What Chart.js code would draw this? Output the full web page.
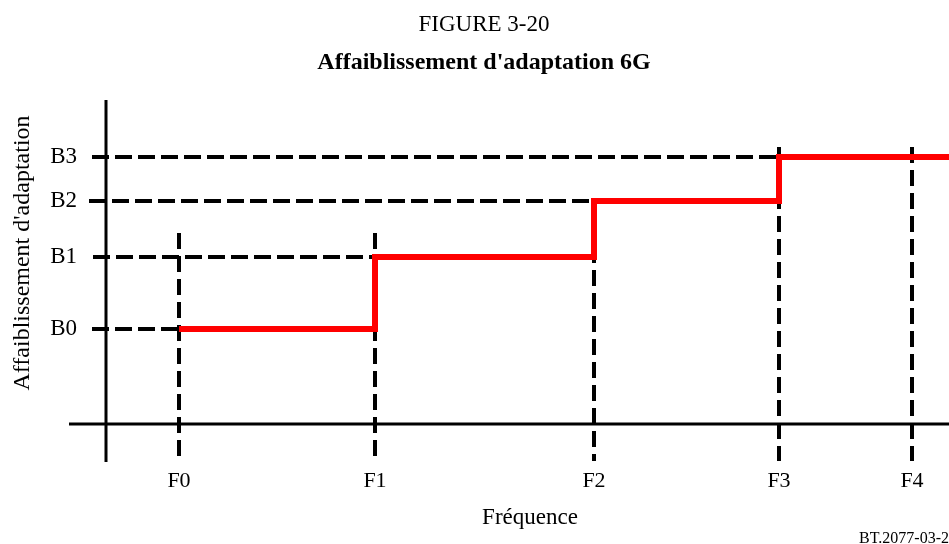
<!DOCTYPE html>
<html lang="fr">

<head>
    <meta charset="UTF-8">
    <title>Affaiblissement d'adaptation 6G</title>
    <script src="https://cdn.jsdelivr.net/npm/chart.js"></script>
    <style>
        body { margin: 0; background: #fff; }
    </style>
</head>

<body>
    <div style="width: 949px; height: 544px;">
        <canvas id="myChart"></canvas>
    </div>

    <script>
        // fréquences F0..F4 (l'axe vertical est à x = 0)
        const freqLabels = ['F0', 'F1', 'F2', 'F3', 'F4'];
        const freqValues = [73, 269, 488, 673, 806];

        // niveaux B0..B3 (l'axe horizontal est à y = 0)
        const levelLabels = ['B0', 'B1', 'B2', 'B3'];
        const levelValues = [95, 167, 223, 267];

        // gabarit en marches (rouge)
        const stepX = [73, 269, 488, 673, 843];
        const stepY = [95, 167, 223, 267, 267];

        // étendue des pointillés
        const hStart = [-14, -13, -17, -14];   // départ à gauche de B0..B3
        const hEnd = [73, 269, 488, 673];      // arrivée sur F0..F3
        const vTop = [191, 191, 223, 277, 277]; // haut des verticales F0..F4
        const vBottom = -37;

        // étendue des axes
        const xAxisSpan = [-37, 843];
        const yAxisSpan = [-38, 324];

        const noteText = 'BT.2077-03-2';

        const FONT = '"Liberation Serif", "Times New Roman", serif';
        const INK = '#000';

        function seg(x1, y1, x2, y2) {
            return [{ x: x1, y: y1 }, { x: x2, y: y2 }];
        }

        const datasets = [];
        // la courbe rouge en premier = dessinée au-dessus
        datasets.push({
            data: stepX.map((x, i) => ({ x: x, y: stepY[i] })),
            borderColor: '#ff0000',
            borderWidth: 6,
            stepped: 'before',
            borderJoinStyle: 'miter'
        });
        levelValues.forEach((b, i) => {
            datasets.push({ data: seg(hStart[i], b, hEnd[i], b), borderColor: INK, borderWidth: 4, borderDash: [17, 6] });
        });
        freqValues.forEach((f, i) => {
            datasets.push({ data: seg(f, vTop[i], f, vBottom), borderColor: INK, borderWidth: 4, borderDash: [16, 7] });
        });
        datasets.push({ data: seg(0, yAxisSpan[0], 0, yAxisSpan[1]), borderColor: INK, borderWidth: 3 });
        datasets.push({ data: seg(xAxisSpan[0], 0, xAxisSpan[1], 0), borderColor: INK, borderWidth: 3 });

        datasets.forEach(d => {
            d.showLine = true;
            d.pointRadius = 0;
            d.clip = false;
            d.fill = false;
        });

        // petite référence en bas à droite
        const notePlugin = {
            id: 'note',
            afterDraw(chart) {
                const ctx = chart.ctx;
                ctx.save();
                ctx.font = '16px ' + FONT;
                ctx.fillStyle = INK;
                ctx.textAlign = 'right';
                ctx.textBaseline = 'alphabetic';
                ctx.fillText(noteText, chart.width, chart.height - 1);
                ctx.restore();
            }
        };

        const ctx = document.querySelector('#myChart');

        // NB: le décalage des étiquettes passe par tickLength (ticks.padding rétrécit la zone du graphe)
        const myChart = new Chart(ctx, {
            type: 'scatter',
            data: { datasets: datasets },
            plugins: [notePlugin],
            options: {
                responsive: true,
                maintainAspectRatio: false,
                devicePixelRatio: 1,
                animation: false,
                layout: { padding: { left: 19, right: 0, top: 0, bottom: 0 } },
                plugins: {
                    legend: { display: false },
                    tooltip: { enabled: false },
                    title: {
                        display: true,
                        text: 'FIGURE 3-20',
                        color: INK,
                        font: { family: FONT, size: 23, weight: 'normal' },
                        padding: { top: 11.2, bottom: 0 }
                    },
                    subtitle: {
                        display: true,
                        text: "Affaiblissement d'adaptation 6G",
                        color: INK,
                        font: { family: FONT, size: 24, weight: 'bold' },
                        padding: { top: 9.8, bottom: 16.6 }
                    }
                },
                scales: {
                    x: {
                        type: 'linear',
                        min: 5,
                        max: 843,
                        afterBuildTicks: s => { s.ticks = freqValues.map(v => ({ value: v })); },
                        afterFit: s => { s.height = 132; },
                        ticks: {
                            callback: (v, i) => freqLabels[i],
                            autoSkip: false,
                            maxRotation: 0,
                            padding: 0,
                            color: INK,
                            font: { family: FONT, size: 22 }
                        },
                        grid: { display: false, drawTicks: true, tickLength: 56 },
                        border: { display: false },
                        title: {
                            display: true,
                            text: 'Fréquence',
                            color: INK,
                            font: { family: FONT, size: 23 },
                            padding: { top: 0, bottom: 12 }
                        }
                    },
                    y: {
                        type: 'linear',
                        min: 12,
                        max: 330,
                        afterBuildTicks: s => { s.ticks = levelValues.map(v => ({ value: v })); },
                        afterFit: s => { s.width = 92; },
                        ticks: {
                            callback: (v, i) => levelLabels[i],
                            autoSkip: false,
                            padding: 0,
                            color: INK,
                            font: { family: FONT, size: 23 }
                        },
                        grid: { display: false, drawTicks: true, tickLength: 34 },
                        border: { display: false },
                        title: {
                            display: true,
                            text: "Affaiblissement d'adaptation",
                            color: INK,
                            font: { family: FONT, size: 24 },
                            padding: { top: -10.4, bottom: 0 }
                        }
                    }
                }
            }
        });
    </script>

</body>

</html>
